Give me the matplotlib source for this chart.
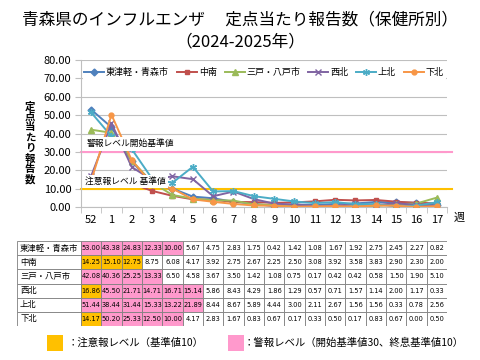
import matplotlib
matplotlib.use("Agg")

import matplotlib.pyplot as plt
from matplotlib.patches import Rectangle

plt.rcParams["font.family"] = ["Noto Sans CJK JP", "DejaVu Sans"]

weeks = ["52", "1", "2", "3", "4", "5", "6", "7", "8", "9",
         "10", "11", "12", "13", "14", "15", "16", "17"]

regions = ["東津軽・青森市", "中南", "三戸・八戸市", "西北", "上北", "下北"]

higashitsugaru = [53.00, 43.38, 24.83, 12.33, 10.00, 5.67, 4.75, 2.83, 1.75,
                  0.42, 1.42, 1.08, 1.67, 1.92, 2.75, 2.45, 2.27, 0.82]
chunan = [14.25, 15.10, 12.75, 8.75, 6.08, 4.17, 3.92, 2.75, 2.67,
          2.25, 2.50, 3.08, 3.92, 3.58, 3.83, 2.90, 2.30, 2.00]
sannohe = [42.08, 40.36, 25.25, 13.33, 6.50, 4.58, 3.67, 3.50, 1.42,
           1.08, 0.75, 0.17, 0.42, 0.42, 0.58, 1.50, 1.90, 5.10]
seihoku = [16.86, 45.50, 21.71, 14.71, 16.71, 15.14, 5.86, 8.43, 4.29,
           1.86, 1.29, 0.57, 0.71, 1.57, 1.14, 2.00, 1.17, 0.33]
kamikita = [51.44, 38.44, 31.44, 15.33, 13.22, 21.89, 8.44, 8.67, 5.89,
            4.44, 3.00, 2.11, 2.67, 1.56, 1.56, 0.33, 0.78, 2.56]
shimokita = [14.17, 50.20, 25.33, 12.50, 10.00, 4.17, 2.83, 1.67, 0.83,
             0.67, 0.17, 0.33, 0.50, 0.17, 0.83, 0.67, 0.00, 0.50]

series = [higashitsugaru, chunan, sannohe, seihoku, kamikita, shimokita]

ALERT_START = 30
ALERT_END = 10
CAUTION = 10

COLORS = ["#4F81BD", "#C0504D", "#9BBB59", "#8064A2", "#4BACC6", "#F79646"]
MARKERS = ["D", "s", "^", "x", (6, 2, 0), "o"]
MSIZES = [3.5, 3.5, 4, 4, 5, 3.5]
PINK = "#FF99CC"
ORANGE = "#FFC000"
GRID = "#BFBFBF"


def cell_colours(values):
    """Pink while in alert (starts >= 30, ends < 10), orange for caution >= 10."""
    out = []
    alert = False
    for v in values:
        if v >= ALERT_START:
            alert = True
        elif alert and v < ALERT_END:
            alert = False
        if alert:
            out.append(PINK)
        elif v >= CAUTION:
            out.append(ORANGE)
        else:
            out.append("white")
    return out


W, H = 480, 360
fig = plt.figure(figsize=(4.8, 3.6), dpi=100)

# title
fig.text(0.5, 1 - 20 / H, "青森県のインフルエンザ　 定点当たり報告数（保健所別）",
         ha="center", va="center", fontsize=12)
fig.text(0.5, 1 - 42 / H, "（2024-2025年）", ha="center", va="center", fontsize=12)

# chart
ax = fig.add_axes([81 / W, 1 - 207 / H, (447 - 81) / W, (207 - 60) / H])
x = list(range(len(weeks)))
for vals, name, c, m, ms in zip(series, regions, COLORS, MARKERS, MSIZES):
    ax.plot(x, vals, color=c, lw=1.4, marker=m, ms=ms, mew=1.0, label=name, zorder=3)

ax.axhline(ALERT_START, color=PINK, lw=1.5, xmax=1.015, clip_on=False, zorder=2)
ax.axhline(CAUTION, color=ORANGE, lw=1.5, xmax=1.015, clip_on=False, zorder=2)

ax.text(-0.2, 34.3, "警報レベル開始基準値", fontsize=6.3, va="center", ha="left",
        bbox=dict(facecolor="white", edgecolor="none", pad=1.5), zorder=6)
ax.text(-0.3, 13.8, "注意報レベル 基準値", fontsize=6.3, va="center", ha="left",
        bbox=dict(facecolor="white", edgecolor="none", pad=1.5), zorder=6)

ax.set_xlim(-0.5, len(weeks) - 0.5)
ax.set_ylim(0, 80)
ax.set_yticks(range(0, 81, 10))
ax.set_yticklabels([f"{v:.2f}" for v in range(0, 81, 10)], fontsize=8)
ax.yaxis.grid(True, color=GRID, lw=0.8)
ax.set_axisbelow(True)
ax.set_xticks(x)
ax.set_xticklabels(weeks, fontsize=8)
ax.set_xticks([i - 0.5 for i in range(len(weeks) + 1)], minor=True)
ax.tick_params(axis="x", which="major", length=0, pad=6)
ax.tick_params(axis="x", which="minor", length=4, color=GRID)
ax.tick_params(axis="y", length=4, color=GRID, pad=3)
for s in ["top", "right"]:
    ax.spines[s].set_visible(False)
for s in ["left", "bottom"]:
    ax.spines[s].set_color(GRID)

ax.text(len(weeks) - 0.5 + 0.6, -3.0, "週", fontsize=8, ha="center", va="top")

fig.text(30 / W, 1 - 143 / H, "\n".join("定点当たり報告数"), ha="center", va="center",
         fontsize=7.5, fontweight="bold", linespacing=1.05)

leg = ax.legend(loc="upper center", bbox_to_anchor=(0.5, 0.99), ncol=6, fontsize=6.5,
                frameon=True, framealpha=1, edgecolor="white", handlelength=2.2,
                handletextpad=0.2, columnspacing=0.9, borderpad=0.2)
leg.set_zorder(7)

# table under the chart, columns aligned with the week categories
n = len(weeks)
label_w = (81 - 17) / ((447 - 81) / n)
tab = fig.add_axes([17 / W, 1 - 326 / H, (447 - 17) / W, (326 - 241) / H])
tab.set_xlim(-0.5 - label_w, n - 0.5)
tab.set_ylim(len(regions), 0)
tab.axis("off")
for r, (name, vals) in enumerate(zip(regions, series)):
    tab.add_patch(Rectangle((-0.5 - label_w, r), label_w, 1, facecolor="white",
                            edgecolor="#7F7F7F", lw=0.6))
    tab.text(-0.5 - label_w + 0.15, r + 0.5, name, fontsize=6, va="center", ha="left")
    for i, (v, fc) in enumerate(zip(vals, cell_colours(vals))):
        tab.add_patch(Rectangle((i - 0.5, r), 1, 1, facecolor=fc,
                                edgecolor="#7F7F7F", lw=0.6))
        tab.text(i, r + 0.5, f"{v:.2f}", fontsize=4.8, va="center", ha="center",
                 family=["Liberation Sans Narrow", "DejaVu Sans"])

# colour key below the table
key = fig.add_axes([0, 0, 1, 1])
key.set_xlim(0, W)
key.set_ylim(H, 0)
key.axis("off")
key.add_patch(Rectangle((47, 335), 16, 16, facecolor=ORANGE, edgecolor="none"))
key.text(68, 343, "：注意報レベル（基準値10）", fontsize=7.5, va="center", ha="left")
key.add_patch(Rectangle((228, 335), 16, 16, facecolor=PINK, edgecolor="none"))
key.text(244, 343, "：警報レベル（開始基準値30、終息基準値10）", fontsize=7.5,
         va="center", ha="left")

fig.savefig("out.png", dpi=100)
